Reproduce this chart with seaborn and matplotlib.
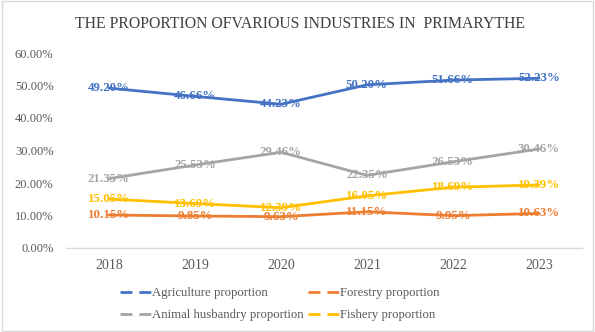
import matplotlib
matplotlib.use("Agg")
import matplotlib.pyplot as plt
import seaborn as sns
import pandas as pd
from matplotlib.lines import Line2D
from matplotlib.patches import Rectangle
from matplotlib.ticker import FuncFormatter

years = ["2018", "2019", "2020", "2021", "2022", "2023"]
agriculture = [49.20, 46.66, 44.23, 50.20, 51.66, 52.23]
forestry = [10.15, 9.85, 9.63, 11.15, 9.95, 10.63]
animal = [21.35, 25.53, 29.46, 22.35, 26.53, 30.46]
fishery = [15.05, 13.69, 12.39, 16.05, 18.69, 19.39]
series_names = ["Agriculture proportion", "Forestry proportion",
                "Animal husbandry proportion", "Fishery proportion"]
colors = ["#4472C4", "#ED7D31", "#A5A5A5", "#FFC000"]
title = "THE PROPORTION OFVARIOUS INDUSTRIES IN  PRIMARYTHE"

rows = []
for name, vals in zip(series_names, [agriculture, forestry, animal, fishery]):
    for i, (y, v) in enumerate(zip(years, vals)):
        rows.append({"idx": i, "year": y, "series": name, "value": v / 100})
df = pd.DataFrame(rows)

sns.set_style("white")
plt.rcParams["font.family"] = ["Liberation Serif", "DejaVu Serif"]

fig = plt.figure(figsize=(5.95, 3.32), dpi=100)
ax = fig.add_axes([66/595, 1-248/332, (582-66)/595, (248-53)/332])

palette = dict(zip(series_names, colors))
sns.lineplot(data=df, x="idx", y="value", hue="series", hue_order=series_names,
             palette=palette, linewidth=2, ax=ax, legend=False, sort=False)

for name, vals in zip(series_names, [agriculture, forestry, animal, fishery]):
    for i, v in enumerate(vals):
        ax.text(i, v / 100, f"{v:.2f}%", ha="center", va="center",
                fontsize=9.3, fontweight="bold", color=palette[name])

ax.set_xlim(-0.5, len(years) - 0.5)
ax.set_ylim(0, 0.6)
ax.set_yticks([0, 0.1, 0.2, 0.3, 0.4, 0.5, 0.6])
ax.yaxis.set_major_formatter(FuncFormatter(lambda v, p: f"{v*100:.2f}%"))
ax.set_xticks(range(len(years)))
ax.set_xticklabels(years)
ax.set_xticks([i - 0.5 for i in range(len(years) + 1)], minor=True)
ax.tick_params(axis="x", which="major", length=0, pad=8, labelsize=10, labelcolor="#595959")
ax.tick_params(axis="x", which="minor", length=5, color="#D9D9D9", width=1, direction="out")
ax.tick_params(axis="y", length=0, labelsize=9, labelcolor="#595959", pad=9)
ax.set_xlabel("")
ax.set_ylabel("")
for s in ["top", "right", "left"]:
    ax.spines[s].set_visible(False)
ax.spines["bottom"].set_color("#D9D9D9")
ax.spines["bottom"].set_linewidth(1)
ax.grid(False)

fig.text(0.505, 1 - 24/332, title, ha="center", va="center", fontsize=11.3, color="#404040")

handles = [Line2D([], [], color=c, linewidth=2, linestyle=(0, (4.3, 2.5))) for c in colors]
order = [0, 2, 1, 3]
fig.legend([handles[i] for i in order], [series_names[i] for i in order],
           loc="center", bbox_to_anchor=(0.47, 1 - 304/332), ncol=2, frameon=False,
           fontsize=9.2, labelcolor="#595959", handlelength=2.5, handletextpad=0.05,
           columnspacing=0.3, labelspacing=0.78)

fig.patches.append(Rectangle((0.003, 0.003), 0.994, 0.994, transform=fig.transFigure,
                             fill=False, edgecolor="#D9D9D9", linewidth=1))

fig.savefig("out.png", dpi=100)
